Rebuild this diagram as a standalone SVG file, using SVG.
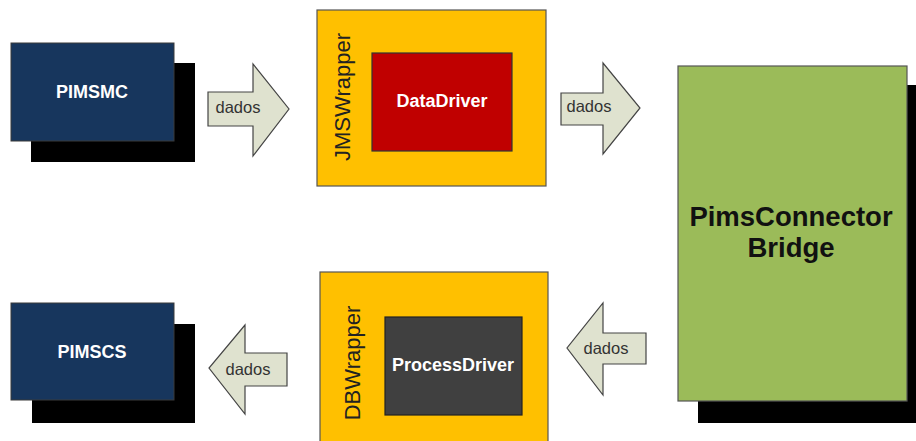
<svg xmlns="http://www.w3.org/2000/svg" width="916" height="441" viewBox="0 0 916 441">
<style>
.sh{fill:#000}
.blue{fill:#17365d;stroke:#3a3a3a;stroke-width:1}
.wrap{fill:#ffc000;stroke:#555;stroke-width:1.2}
.red{fill:#c00000;stroke:#333;stroke-width:1.2}
.dark{fill:#404040;stroke:#222;stroke-width:1.2}
.green{fill:#9bbb59;stroke:#555;stroke-width:1.2}
.arr{fill:#dfe2cf;stroke:#444;stroke-width:1.2}
.wt{font-family:"Liberation Sans",Arial,sans-serif;font-weight:bold;font-size:18px;fill:#fff;text-anchor:middle}
.dt{font-family:"Liberation Sans",Arial,sans-serif;font-size:16.5px;fill:#333;text-anchor:middle}
.vt{font-family:"Liberation Sans",Arial,sans-serif;font-size:22px;fill:#222;text-anchor:middle}
.bt{font-family:"Liberation Sans",Arial,sans-serif;font-weight:bold;font-size:27.5px;fill:#111;text-anchor:middle}
</style>
<g id="pimsmc">
<rect class="sh" x="31" y="63" width="164" height="99"/>
<rect class="blue" x="11" y="43" width="163" height="98"/>
<text class="wt" x="92" y="98">PIMSMC</text>
</g>
<g id="jmswrapper">
<rect class="wrap" x="317" y="10" width="229" height="176"/>
<text class="vt" transform="translate(350,97) rotate(-90)">JMSWrapper</text>
</g>
<g id="datadriver">
<rect class="red" x="372" y="53" width="140" height="98"/>
<text class="wt" x="442" y="107">DataDriver</text>
</g>
<g id="bridge">
<rect class="sh" x="698" y="85" width="218" height="338"/>
<rect class="green" x="678" y="66" width="229" height="335"/>
<text class="bt" x="791" y="226">PimsConnector</text>
<text class="bt" x="791" y="257">Bridge</text>
</g>
<g id="pimscs">
<rect class="sh" x="32" y="324" width="163" height="99"/>
<rect class="blue" x="11" y="303" width="163" height="97"/>
<text class="wt" x="92" y="358">PIMSCS</text>
</g>
<g id="dbwrapper">
<rect class="wrap" x="320" y="272" width="228" height="175"/>
<text class="vt" transform="translate(360,363) rotate(-90)">DBWrapper</text>
</g>
<g id="processdriver">
<rect class="dark" x="385" y="317" width="137" height="98"/>
<text class="wt" x="453" y="371">ProcessDriver</text>
</g>
<g id="connectors">
<path class="arr" d="M208,92 H253 V64 L289,109 L253,156 V126 H208 Z"/>
<text class="dt" x="238" y="113">dados</text>
<path class="arr" d="M561,93 H603 V63 L640,108 L603,154 V125 H561 Z"/>
<text class="dt" x="589" y="112">dados</text>
<path class="arr" d="M646,333 H603 V303 L567,348 L603,395 V364 H646 Z"/>
<text class="dt" x="606" y="354">dados</text>
<path class="arr" d="M287,353 H245 V325 L209,368 L245,414 V386 H287 Z"/>
<text class="dt" x="248" y="375">dados</text>
</g>
</svg>
